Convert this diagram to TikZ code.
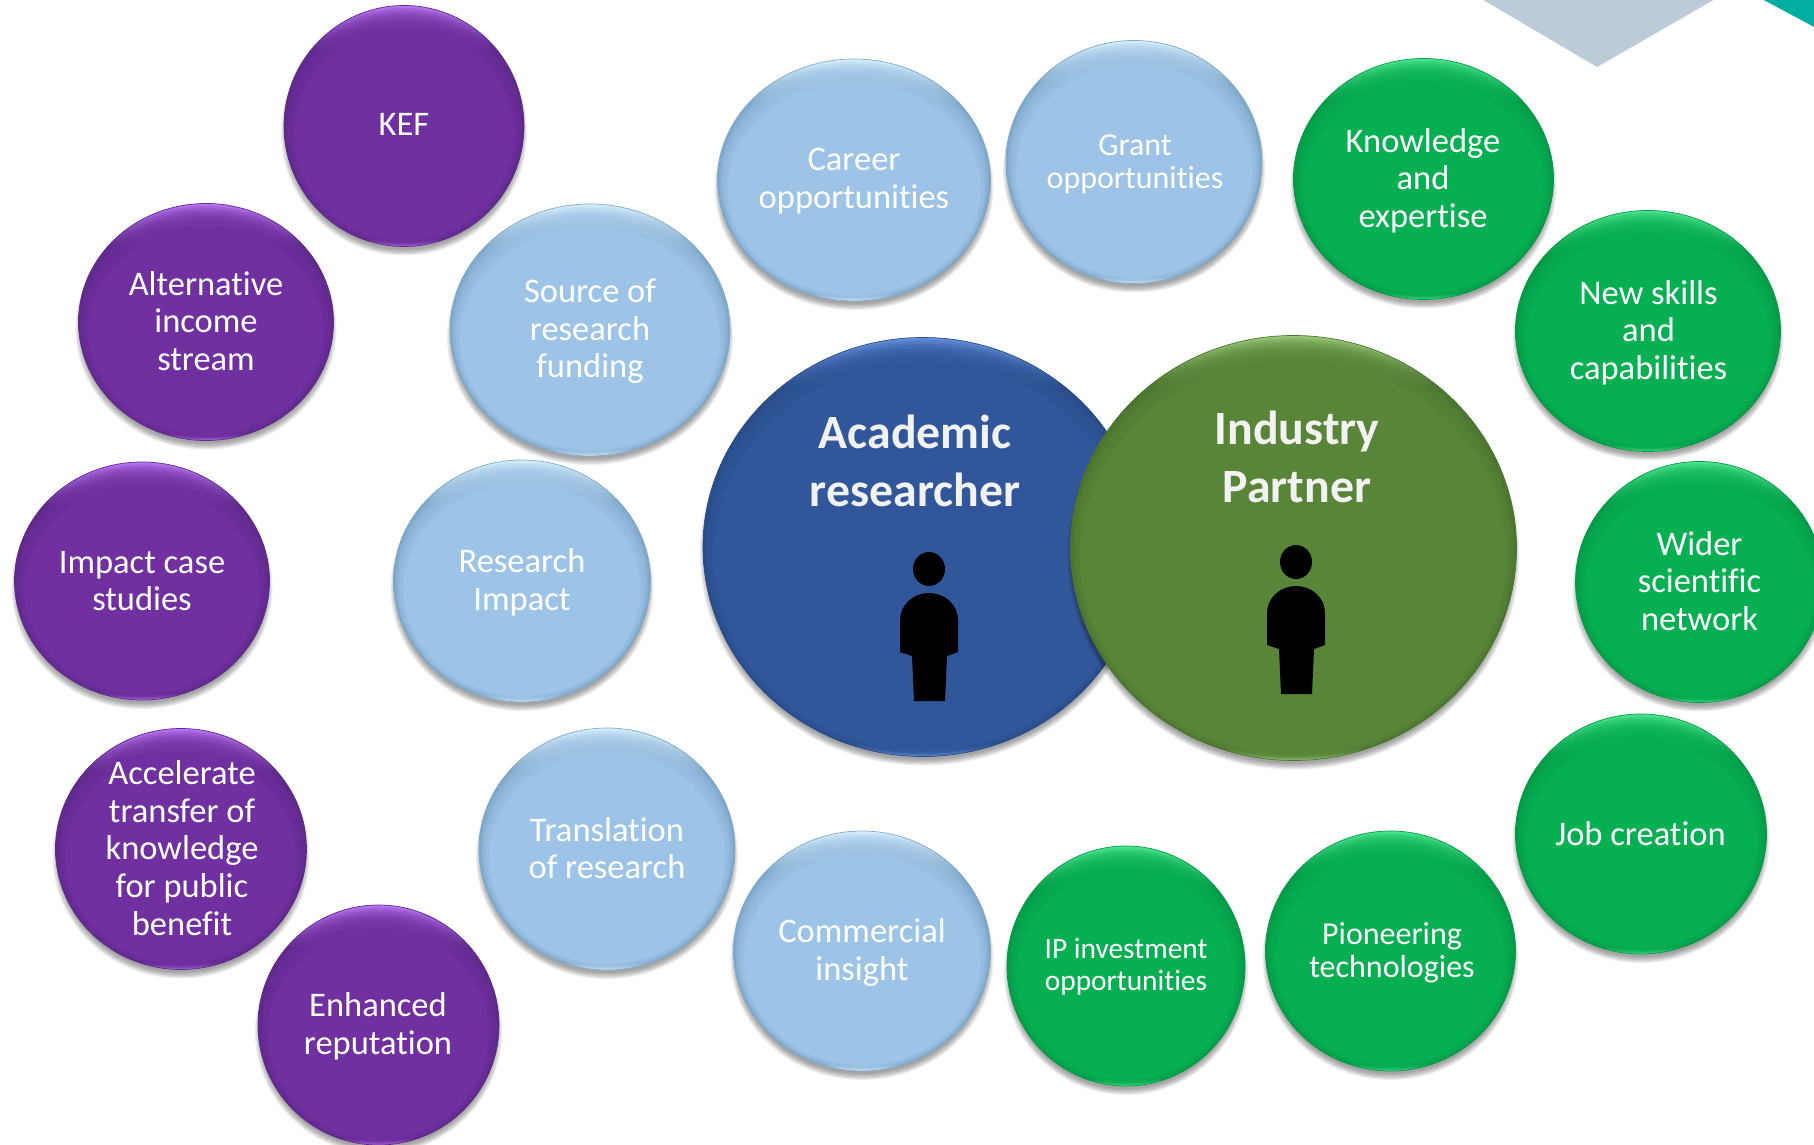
\documentclass[tikz,border=0pt]{standalone}
\usepackage{fontspec}
\setmainfont{Carlito}[Ligatures=NoCommon]
\usetikzlibrary{shapes.geometric}
\definecolor{purpbase}{HTML}{7030A0}
\definecolor{purptop}{HTML}{B874F2}
\definecolor{purpedge}{HTML}{5F2A8A}
\definecolor{skybase}{HTML}{9DC3E6}
\definecolor{skytop}{HTML}{D6EEFC}
\definecolor{skyedge}{HTML}{7FA8C8}
\definecolor{leafbase}{HTML}{05AF52}
\definecolor{leaftop}{HTML}{4BE48C}
\definecolor{leafedge}{HTML}{059A49}
\definecolor{navybase}{HTML}{31579A}
\definecolor{navytop}{HTML}{6490DC}
\definecolor{navyedge}{HTML}{2A4C88}
\definecolor{olivebase}{HTML}{598538}
\definecolor{olivetop}{HTML}{9AC878}
\definecolor{oliveedge}{HTML}{4B7530}
\definecolor{slatefill}{HTML}{BDCBD8}
\definecolor{tealfill}{HTML}{00AFA0}
\definecolor{titlewhite}{HTML}{F2F2F2}
% TikZ fits a path's bounding box to the central 25bp..75bp band of a shading
\pgfdeclareverticalshading{purpsh}{100bp}{color(0bp)=(purptop); color(25bp)=(purptop); color(26.5bp)=(purpedge); color(66bp)=(purpedge); color(75bp)=(purptop); color(100bp)=(purptop)}
\pgfdeclareverticalshading{skysh}{100bp}{color(0bp)=(skytop); color(25bp)=(skytop); color(26.5bp)=(skyedge); color(66bp)=(skyedge); color(75bp)=(skytop); color(100bp)=(skytop)}
\pgfdeclareverticalshading{leafsh}{100bp}{color(0bp)=(leaftop); color(25bp)=(leaftop); color(26.5bp)=(leafedge); color(66bp)=(leafedge); color(75bp)=(leaftop); color(100bp)=(leaftop)}
\pgfdeclareverticalshading{navysh}{100bp}{color(0bp)=(navytop); color(25bp)=(navytop); color(26.5bp)=(navyedge); color(69bp)=(navyedge); color(75bp)=(navytop); color(100bp)=(navytop)}
\pgfdeclareverticalshading{olivesh}{100bp}{color(0bp)=(olivetop); color(25bp)=(olivetop); color(26.5bp)=(oliveedge); color(69bp)=(oliveedge); color(75bp)=(olivetop); color(100bp)=(olivetop)}
\tikzset{
  bubblebody/.style={ellipse,inner sep=0pt,outer sep=0pt,line width=.7pt},
  bubbletext/.style={text=white,align=center,inner sep=0pt,font=\fontsize{34.5}{37.6}\selectfont},
  smalltext/.style={bubbletext,font=\fontsize{32}{33.5}\selectfont},
  tinytext/.style={bubbletext,font=\fontsize{29.4}{32.4}\selectfont},
  bigtext/.style={bubbletext,text=titlewhite,font=\fontsize{47.8}{58}\selectfont\bfseries},
  figure/.style={fill=black,draw=none},
}
% name, cx, cy, w, h, colour, text style + position, text
\newcommand\bub[8]{%
  \foreach \k in {0,...,5}{%
    \fill[black,opacity=.07] (#2,#3+7) ellipse [x radius=#4/2+3-\k*1.2,y radius=#5/2+2-\k*1.2];
  }%
  \node[bubblebody,draw=#6edge,shading=#6sh,minimum width=#4pt,minimum height=#5pt] (#1) at (#2,#3) {};
  \foreach \k in {1,...,10}{%
    \fill[#6base,opacity=.2] (#2,#3+.9*\k) ellipse [x radius=#4/2-1-.9*\k,y radius=#5/2-1.5*\k];
  }%
  \fill[#6base] (#2,#3+9) ellipse [x radius=#4/2-10,y radius=#5/2-15];
  \node[#7] (#1t) {#8};
}
\newcommand\person[3]{%
  \fill[figure] (#2,#3) ellipse [x radius=16,y radius=17];
  \fill[figure] (#2-29,#3+51) .. controls (#2-29,#3+36) and (#2-16,#3+24) .. (#2,#3+24)
     .. controls (#2+16,#3+24) and (#2+29,#3+36) .. (#2+29,#3+51)
     -- (#2+29,#3+83) -- (#2+18,#3+87) -- (#2+16,#3+132) -- (#2-15,#3+132) -- (#2-17,#3+87) -- (#2-29,#3+83) -- cycle;
  \coordinate (#1) at (#2,#3);
}
\begin{document}
\begin{tikzpicture}[x=1pt,y=-1pt]
\useasboundingbox (0,0) rectangle (1814,1145);
\fill[slatefill] (1480,-2) -- (1597,67) -- (1717,-2) -- cycle;
\fill[tealfill] (1760,-2) -- (1816,28) -- (1816,-2) -- cycle;

\bub{kef}{404}{126}{240}{241}{purp}{bubbletext,at={(404,124)}}{KEF}
\bub{alt}{206}{322}{255}{237}{purp}{bubbletext,at={(206,321)}}{Alternative\\income\\stream}
\bub{case}{142}{581}{255}{238}{purp}{bubbletext,at={(142,581)}}{Impact case\\studies}
\bub{accel}{181}{849}{251}{241}{purp}{bubbletext,at={(182,848)}}{Accelerate\\transfer of\\knowledge\\for public\\benefit}
\bub{rep}{378.5}{1025}{241}{240}{purp}{bubbletext,at={(378,1026)}}{Enhanced\\reputation}

\bub{fund}{590}{330}{280}{252}{sky}{bubbletext,at={(590,331.5)}}{Source of\\research\\funding}
\bub{impact}{522}{581}{257}{242}{sky}{bubbletext,at={(522,582)}}{Research\\Impact}
\bub{trans}{607}{849}{256}{242}{sky}{bubbletext,at={(607,848)}}{Translation\\of research}
\bub{comm}{862}{951}{257}{240}{sky}{bubbletext,at={(862,952.5)}}{Commercial\\insight}
\bub{career}{854}{180}{273}{242}{sky}{bubbletext,at={(854,181)}}{Career\\opportunities}
\bub{grant}{1134}{162}{256}{243}{sky}{smalltext,at={(1135,164)}}{Grant\\opportunities}

\bub{know}{1423.5}{179}{260}{241}{leaf}{bubbletext,at={(1423,180.5)}}{Knowledge\\and\\expertise}
\bub{skills}{1648}{331}{265}{241}{leaf}{bubbletext,at={(1648.5,332.5)}}{New skills\\and\\capabilities}
\bub{wider}{1699.5}{582}{248}{241}{leaf}{bubbletext,at={(1699.5,581)}}{Wider\\scientific\\network}
\bub{job}{1641}{834}{251}{240}{leaf}{bubbletext,at={(1640.5,834)}}{Job creation}
\bub{pion}{1390.5}{951}{250}{240}{leaf}{smalltext,at={(1392,952.5)}}{Pioneering\\technologies}
\bub{ip}{1126}{966}{238}{240}{leaf}{tinytext,at={(1126,967)}}{IP investment\\opportunities}

\bub{acad}{923}{547}{440}{419}{navy}{bigtext,at={(915,461)}}{Academic\\researcher}
\person{acadfig}{929}{569}
\bub{ind}{1293.5}{548}{446}{425}{olive}{bigtext,at={(1297,457)}}{Industry\\Partner}
\person{indfig}{1296}{562}
\end{tikzpicture}
\end{document}
